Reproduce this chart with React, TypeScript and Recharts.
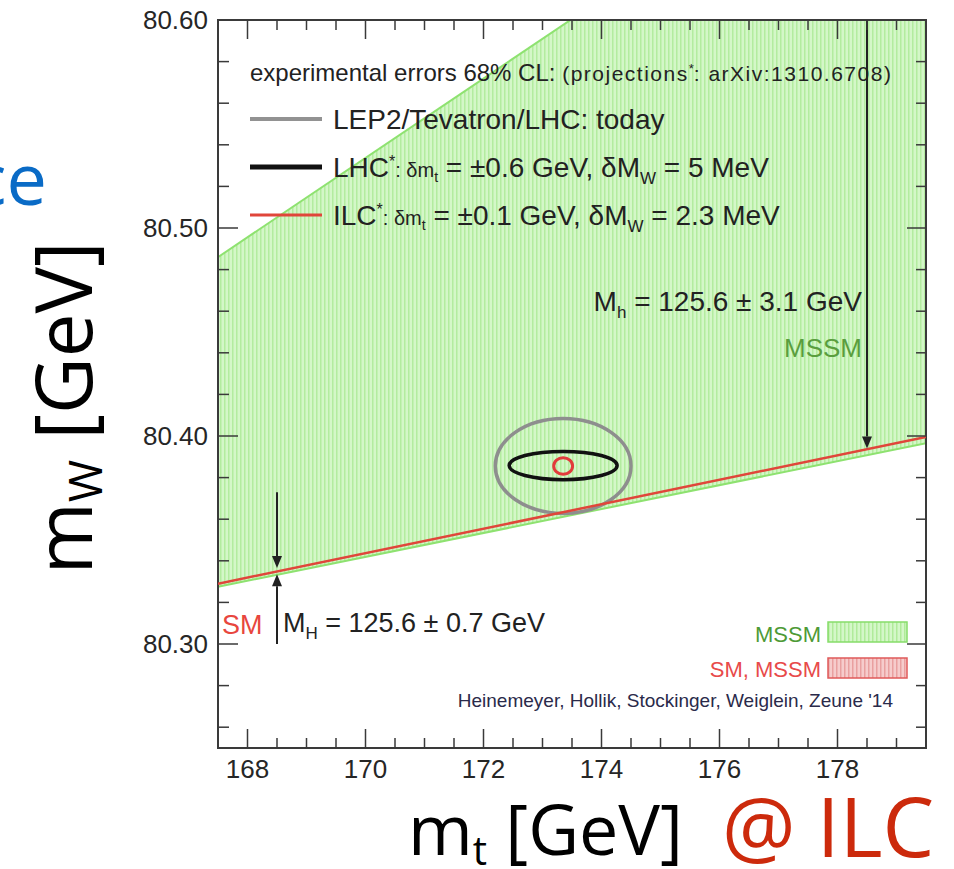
import { Area, ComposedChart, Line, ReferenceArea, ReferenceLine, XAxis, YAxis } from 'recharts'

// axes
const xDomain = [167.5, 179.5]
const yDomain = [80.25, 80.6]
const xTicks = [168, 168.5, 169, 169.5, 170, 170.5, 171, 171.5, 172, 172.5, 173, 173.5, 174, 174.5, 175, 175.5, 176, 176.5, 177, 177.5, 178, 178.5, 179]
const xLabels = [168, 170, 172, 174, 176, 178]
const yTicks = [80.26, 80.28, 80.3, 80.32, 80.34, 80.36, 80.38, 80.4, 80.42, 80.44, 80.46, 80.48, 80.5, 80.52, 80.54, 80.56, 80.58]
const yLabels = [80.3, 80.4, 80.5, 80.6]

// MSSM band (lower, upper) at the plot edges
const mssmBand = [
    { mt: 167.5, mw: [80.3275, 80.486] },
    { mt: 179.5, mw: [80.3965, 80.715] },
]
// SM line
const smLine = [
    { mt: 167.5, mw: 80.329 },
    { mt: 179.5, mw: 80.3995 },
]
// 68% CL ellipses: centre and half widths
const ellipses = [
    { name: 'today', cx: 173.35, cy: 80.3856, rx: 1.15, ry: 0.0228, color: '#8e8e8e', width: 3.5 },
    { name: 'LHC', cx: 173.35, cy: 80.3858, rx: 0.915, ry: 0.0068, color: '#111111', width: 3.5 },
    { name: 'ILC', cx: 173.35, cy: 80.3856, rx: 0.16, ry: 0.004, color: '#e23b3b', width: 3 },
]
// Higgs mass arrows
const arrows = [
    { mt: 168.5, from: 80.373, to: 80.3365 },
    { mt: 168.5, from: 80.3, to: 80.3335 },
    { mt: 178.5, from: 80.6, to: 80.394 },
]

const W = 954
const H = 869
const font = '"Liberation Sans", Arial, sans-serif'
const bigFont = '"Open Sans", "Noto Sans", sans-serif'
const axisColor = '#3a3a3a'

const near = (list: number[], v: number) => list.some((l) => Math.abs(l - v) < 1e-6)

const BottomLabel = ({ x, y, payload }: any) =>
    near(xLabels, payload.value) ? (
        <text x={x} y={y + 30} textAnchor="middle" fontSize={26} fill="#262626" fontFamily={font}>
            {payload.value}
        </text>
    ) : (
        <g />
    )

const LeftLabel = ({ x, y, payload }: any) =>
    near(yLabels, payload.value) ? (
        <text x={x - 10} y={y + 9} textAnchor="end" fontSize={26} fill="#262626" fontFamily={font}>
            {payload.value.toFixed(2)}
        </text>
    ) : (
        <g />
    )

// inward ticks at both ends of a full-height / full-width reference line
const tickMarks = (major: boolean, vertical: boolean) => (props: any) => {
    const { x1, y1, x2, y2 } = props
    const len = major ? 19 : 10
    if (vertical) {
        const top = Math.min(y1, y2)
        const bottom = Math.max(y1, y2)
        return (
            <g stroke={axisColor} strokeWidth={1.5}>
                <line x1={x1} x2={x1} y1={top} y2={top + len} />
                <line x1={x1} x2={x1} y1={bottom} y2={bottom - len} />
            </g>
        )
    }
    const left = Math.min(x1, x2)
    const right = Math.max(x1, x2)
    return (
        <g stroke={axisColor} strokeWidth={1.5}>
            <line x1={left} x2={left + len + 1} y1={y1} y2={y1} />
            <line x1={right} x2={right - len} y1={y1} y2={y1} />
        </g>
    )
}

const Arrow = (props: any) => {
    const { x1, y1, x2, y2 } = props
    const len = Math.hypot(x2 - x1, y2 - y1) || 1
    const ux = (x2 - x1) / len
    const uy = (y2 - y1) / len
    const hl = 12
    const hw = 5
    const bx = x2 - ux * hl
    const by = y2 - uy * hl
    return (
        <g>
            <line x1={x1} y1={y1} x2={bx} y2={by} stroke="#222" strokeWidth={2} />
            <polygon
                points={`${x2},${y2} ${bx - uy * hw},${by + ux * hw} ${bx + uy * hw},${by - ux * hw}`}
                fill="#222"
            />
        </g>
    )
}

const ellipseShape = (color: string, width: number) => (props: any) => {
    const { x, y, width: w, height: h } = props
    return (
        <ellipse
            cx={x + w / 2}
            cy={y + h / 2}
            rx={Math.abs(w) / 2}
            ry={Math.abs(h) / 2}
            fill="none"
            stroke={color}
            strokeWidth={width}
        />
    )
}

const frameShape = (props: any) => {
    const { x, y, width: w, height: h } = props
    return <rect x={x} y={y} width={w} height={h} fill="none" stroke={axisColor} strokeWidth={2} />
}

const Hatch = ({ id, bg, line }: { id: string; bg: string; line: string }) => (
    <pattern id={id} width={4} height={4} patternUnits="userSpaceOnUse">
        <rect width={4} height={4} fill={bg} />
        <rect x={0} width={1.5} height={4} fill={line} />
    </pattern>
)

const Overlay = () => (
    <svg width={W} height={H} style={{ position: 'absolute', left: 0, top: 0, pointerEvents: 'none' }}>
        <defs>
            <Hatch id="legGreen" bg="#d4f7c8" line="#b0eb9a" />
            <Hatch id="legRed" bg="#f6cccc" line="#e9a0a0" />
        </defs>
        <g fontFamily={font} fill="#222">
            <text x={250} y={81} fontSize={24}>
                experimental errors 68% CL: <tspan fontSize={21} letterSpacing={1.5}>(projections</tspan>
                <tspan fontSize={13} dy={-8}>*</tspan>
                <tspan fontSize={21} dy={8} letterSpacing={1.5}>: arXiv:1310.6708)</tspan>
            </text>

            <line x1={250} x2={322} y1={119} y2={119} stroke="#929292" strokeWidth={4} />
            <text x={333} y={129} fontSize={28}>LEP2/Tevatron/LHC: today</text>

            <line x1={250} x2={322} y1={167} y2={167} stroke="#111" strokeWidth={5} />
            <text x={333} y={177} fontSize={28}>
                LHC<tspan fontSize={16} dy={-10}>*</tspan>
                <tspan fontSize={20} dy={10}>: δm</tspan>
                <tspan fontSize={14} dy={5}>t</tspan>
                <tspan dy={-5}> = ±0.6 GeV, δM</tspan>
                <tspan fontSize={17} dy={7}>W</tspan>
                <tspan dy={-7}> = 5 MeV</tspan>
            </text>

            <line x1={250} x2={322} y1={215} y2={215} stroke="#e0463a" strokeWidth={3} />
            <text x={333} y={225} fontSize={28}>
                ILC<tspan fontSize={16} dy={-10}>*</tspan>
                <tspan fontSize={20} dy={10}>: δm</tspan>
                <tspan fontSize={14} dy={5}>t</tspan>
                <tspan dy={-5}> = ±0.1 GeV, δM</tspan>
                <tspan fontSize={17} dy={7}>W</tspan>
                <tspan dy={-7}> = 2.3 MeV</tspan>
            </text>

            <text x={862} y={311} fontSize={28} textAnchor="end">
                M<tspan fontSize={17} dy={7}>h</tspan>
                <tspan dy={-7}> = 125.6 ± 3.1 GeV</tspan>
            </text>
            <text x={862} y={357} fontSize={26} textAnchor="end" fill="#5a9e3e">MSSM</text>

            <text x={222} y={634} fontSize={27} fill="#e8463e">SM</text>
            <text x={283} y={632} fontSize={27}>
                M<tspan fontSize={17} dy={7}>H</tspan>
                <tspan dy={-7}> = 125.6 ± 0.7 GeV</tspan>
            </text>

            <text x={821} y={642} fontSize={22} textAnchor="end" fill="#4e9a36">MSSM</text>
            <rect x={828} y={622} width={79} height={20} fill="url(#legGreen)" stroke="#86dd6a" strokeWidth={1.5} />
            <text x={821} y={677} fontSize={22} textAnchor="end" fill="#e84a4a">SM, MSSM</text>
            <rect x={828} y={658} width={79} height={20} fill="url(#legRed)" stroke="#e05a5a" strokeWidth={1.5} />
            <text x={893} y={707} fontSize={19} textAnchor="end" fill="#2a2a4a">
                Heinemeyer, Hollik, Stockinger, Weiglein, Zeune '14
            </text>
        </g>

        <g fontFamily={bigFont}>
            <text x={47} y={205} fontSize={72} textAnchor="end" fill="#0a6bc6">ce</text>
            <text transform="translate(92, 408) rotate(-90)" textAnchor="middle" fontSize={78} fill="#000">
                m<tspan fontSize={46} dy={10}>W</tspan>
                <tspan dy={-10}> [GeV]</tspan>
            </text>
            <text x={408} y={855} fontSize={70} fill="#000">
                m<tspan fontSize={40} dy={10}>t</tspan>
                <tspan dy={-10}> [GeV]</tspan>
            </text>
            <text x={722} y={857} fontSize={82} fill="#cc2a0c">@ ILC</text>
        </g>
    </svg>
)

const App = () => {
    return (
        <div style={{ position: 'absolute', left: 0, top: 0, width: W, height: H, background: '#fff' }}>
            <ComposedChart width={W} height={H} margin={{ top: 20, right: 28, bottom: 81, left: 158 }}>
                <defs>
                    <Hatch id="mssmHatch" bg="#d4f7c8" line="#b3ec9f" />
                </defs>
                <XAxis
                    dataKey="mt"
                    type="number"
                    domain={xDomain}
                    allowDataOverflow
                    ticks={xTicks}
                    interval={0}
                    height={40}
                    tickLine={false}
                    tickSize={0}
                    tickMargin={0}
                    tick={BottomLabel}
                    axisLine={false}
                />
                <YAxis
                    type="number"
                    domain={yDomain}
                    allowDataOverflow
                    ticks={[...yTicks, 80.6]}
                    interval={0}
                    width={60}
                    tickLine={false}
                    tickSize={0}
                    tickMargin={0}
                    tick={LeftLabel}
                    axisLine={false}
                />
                <Area
                    data={mssmBand}
                    dataKey="mw"
                    type="linear"
                    stroke="#8ee270"
                    strokeWidth={2}
                    fill="url(#mssmHatch)"
                    fillOpacity={1}
                    dot={false}
                    activeDot={false}
                    isAnimationActive={false}
                />
                <Line
                    data={smLine}
                    dataKey="mw"
                    type="linear"
                    stroke="#e0463a"
                    strokeWidth={2.5}
                    dot={false}
                    activeDot={false}
                    isAnimationActive={false}
                />
                {ellipses.map((e) => (
                    <ReferenceArea
                        key={e.name}
                        x1={e.cx - e.rx}
                        x2={e.cx + e.rx}
                        y1={e.cy - e.ry}
                        y2={e.cy + e.ry}
                        shape={ellipseShape(e.color, e.width)}
                    />
                ))}
                {arrows.map((a, i) => (
                    <ReferenceLine
                        key={`arrow-${i}`}
                        segment={[
                            { x: a.mt, y: a.from },
                            { x: a.mt, y: a.to },
                        ]}
                        shape={Arrow}
                    />
                ))}
                {xTicks.map((v) => (
                    <ReferenceLine key={`xt-${v}`} x={v} shape={tickMarks(near(xLabels, v), true)} />
                ))}
                {yTicks.map((v) => (
                    <ReferenceLine key={`yt-${v}`} y={v} shape={tickMarks(near(yLabels, v), false)} />
                ))}
                <ReferenceArea x1={xDomain[0]} x2={xDomain[1]} y1={yDomain[0]} y2={yDomain[1]} shape={frameShape} />
            </ComposedChart>
            <Overlay />
        </div>
    )
}

export default App
